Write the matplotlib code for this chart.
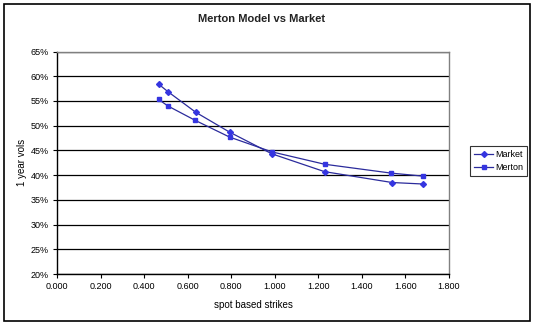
import matplotlib
matplotlib.use("Agg")
import matplotlib.pyplot as plt
from matplotlib.patches import Rectangle
from matplotlib.ticker import FuncFormatter, MultipleLocator

plt.rcParams['font.family'] = ['Liberation Sans', 'DejaVu Sans']

# data
strikes_market = [0.466, 0.508, 0.637, 0.792, 0.987, 1.229, 1.540, 1.682]
vols_market = [0.584, 0.569, 0.527, 0.487, 0.443, 0.407, 0.385, 0.382]
strikes_merton = [0.466, 0.508, 0.633, 0.792, 0.987, 1.229, 1.536, 1.681]
vols_merton = [0.553, 0.540, 0.511, 0.477, 0.447, 0.422, 0.404, 0.398]

W, H = 536, 327
fig = plt.figure(figsize=(W / 100, H / 100), dpi=100)
fig.patch.set_facecolor('white')

# outer chart border
fig.patches.append(Rectangle((4 / W, 1 - 321 / H), 526 / W, 317 / H,
                             transform=fig.transFigure, fill=False,
                             edgecolor='black', linewidth=1.2))

ax = fig.add_axes([57.3 / W, 1 - 274 / H, (448.7 - 57.3) / W, (274 - 51.5) / H])

line_col = '#2b2b9c'
mark_col = '#3535e0'
ax.plot(strikes_market, vols_market, color=line_col, lw=0.9, marker='D', ms=3.0,
        mfc=mark_col, mec=mark_col, label='Market')
ax.plot(strikes_merton, vols_merton, color=line_col, lw=0.9, marker='s', ms=3.4,
        mfc=mark_col, mec=mark_col, label='Merton')

ax.set_xlim(0, 1.8)
ax.set_ylim(0.20, 0.65)
ax.xaxis.set_major_locator(MultipleLocator(0.2))
ax.yaxis.set_major_locator(MultipleLocator(0.05))
ax.xaxis.set_major_formatter(FuncFormatter(lambda v, p: '%.3f' % v))
ax.yaxis.set_major_formatter(FuncFormatter(lambda v, p: '%d%%' % round(v * 100)))
ax.tick_params(labelsize=6.5, length=3, width=0.8, direction='out', color='black', pad=3)
ax.grid(axis='y', color='black', lw=0.9)
ax.set_axisbelow(True)

for s in ['top', 'right']:
    ax.spines[s].set_color('#808080')
    ax.spines[s].set_linewidth(1.0)
for s in ['left', 'bottom']:
    ax.spines[s].set_color('black')
    ax.spines[s].set_linewidth(1.0)

ax.set_xlabel('spot based strikes', fontsize=7, labelpad=6)
ax.set_ylabel('1 year vols', fontsize=7, labelpad=3)
fig.text(262 / W, 1 - 19 / H, 'Merton Model vs Market', fontsize=8,
         fontweight='bold', ha='center', va='center', color='#222222')

leg = ax.legend(loc='center left', bbox_to_anchor=(470 / W, 1 - 161 / H),
                bbox_transform=fig.transFigure, fontsize=6.5, frameon=True,
                fancybox=False, edgecolor='black', borderpad=0.4,
                handlelength=2.2, handletextpad=0.2, labelspacing=0.5,
                borderaxespad=0)
leg.get_frame().set_linewidth(0.8)

fig.savefig('out.png', dpi=100)
